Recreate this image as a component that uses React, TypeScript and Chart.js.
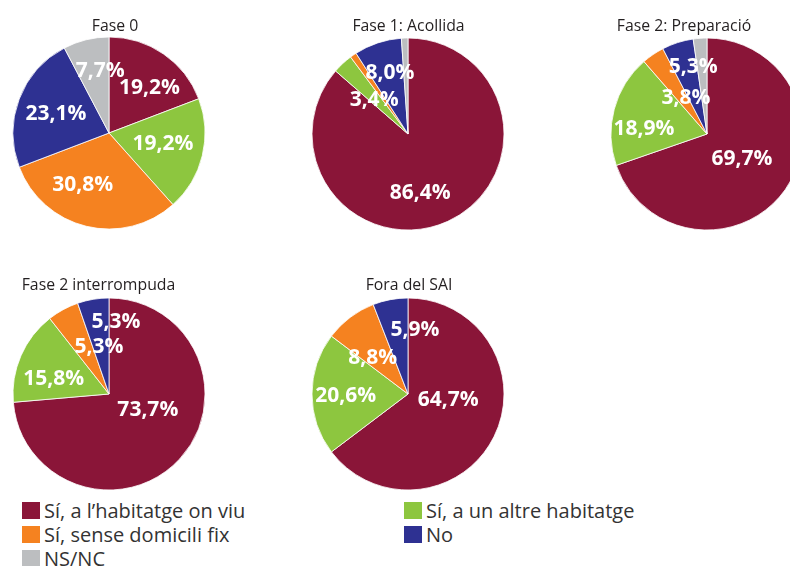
import React, { useEffect, useRef } from "react";
import { Chart, registerables } from "chart.js";

Chart.register(...registerables);

const categories = [
  "Sí, a l’habitatge on viu",
  "Sí, a un altre habitatge",
  "Sí, sense domicili fix",
  "No",
  "NS/NC",
];
const colors = ["#8A1538", "#8DC63F", "#F58220", "#2E3192", "#BCBEC0"];

const titles = ["Fase 0", "Fase 1: Acollida", "Fase 2: Preparació", "Fase 2 interrompuda", "Fora del SAI"];
const fase0 = [19.2, 19.2, 30.8, 23.1, 7.7];
const fase1 = [86.4, 3.4, 1.1, 8.0, 1.1];
const fase2prep = [69.7, 18.9, 3.8, 5.3, 2.3];
const fase2int = [73.7, 15.8, 5.3, 5.3, 0];
const fora = [64.7, 20.6, 8.8, 5.9, 0];

// label placement: [angle nudge in degrees from slice middle, radius fraction]
const place0 = [[6.5, 0.64], [-4, 0.57], [14, 0.59], [0, 0.59], [6, 0.67]];
const place1 = [[12.5, 0.61], [-1, 0.51], [0, 0.6], [2.4, 0.68], [0, 0.6]];
const place2 = [[-1.5, 0.44], [-9, 0.66], [5, 0.45], [6.5, 0.73], [0, 0.6]];
const place3 = [[-22.7, 0.43], [-7, 0.6], [17, 0.52], [15, 0.77], [0, 0.6]];
const place4 = [[-20.5, 0.42], [0, 0.65], [-6, 0.54], [16.6, 0.69], [0, 0.6]];

const FONT = "'Open Sans', 'Noto Sans', sans-serif";

const labelPlugin = {
  id: "sliceLabels",
  afterDatasetsDraw(chart: any, _args: any, opts: any) {
    const ctx = chart.ctx;
    const meta = chart.getDatasetMeta(0);
    const data = chart.data.datasets[0].data as number[];
    const place = opts.place as number[][];
    ctx.save();
    ctx.font = `bold 21px ${FONT}`;
    ctx.fillStyle = "#ffffff";
    ctx.textAlign = "center";
    ctx.textBaseline = "alphabetic";
    meta.data.forEach((arc: any, i: number) => {
      const v = data[i];
      if (v < 3) return;
      const p = arc.getProps(["x", "y", "startAngle", "endAngle", "outerRadius"], true);
      const a = (p.startAngle + p.endAngle) / 2 + (place[i][0] * Math.PI) / 180;
      const r = p.outerRadius * place[i][1];
      const x = p.x + Math.cos(a) * r;
      const y = p.y + Math.sin(a) * r;
      ctx.fillText(v.toFixed(1).replace(".", ",") + "%", x, y + 7.5);
    });
    ctx.restore();
  },
};

function Pie({ values, place, cx, cy }: { values: number[]; place: number[][]; cx: number; cy: number }) {
  const ref = useRef<HTMLCanvasElement | null>(null);
  useEffect(() => {
    if (!ref.current) return;
    const chart = new Chart(ref.current, {
      type: "pie",
      data: {
        labels: categories,
        datasets: [
          {
            data: values,
            backgroundColor: colors,
            borderColor: "#ffffff",
            borderWidth: 0.8,
          },
        ],
      },
      options: {
        animation: false,
        responsive: false,
        radius: 96,
        layout: { padding: 0 },
        plugins: {
          legend: { display: false },
          title: { display: false },
          tooltip: { enabled: false },
          sliceLabels: { place },
        } as any,
      },
      plugins: [labelPlugin],
    });
    return () => chart.destroy();
  }, []);
  return (
    <canvas
      ref={ref}
      width={200}
      height={200}
      style={{ position: "absolute", left: cx - 100, top: cy - 100, width: 200, height: 200 }}
    />
  );
}

function Title({ text, cx, baseline }: { text: string; cx: number; baseline: number }) {
  return (
    <div
      style={{
        position: "absolute",
        left: cx - 150,
        width: 300,
        top: baseline - 14,
        textAlign: "center",
        font: `15.8px ${FONT}`,
        lineHeight: "16px",
        color: "#231f20",
        whiteSpace: "nowrap",
      }}
    >
      {text}
    </div>
  );
}

function LegendItem({ i, left, top }: { i: number; left: number; top: number }) {
  return (
    <div
      style={{
        position: "absolute",
        left,
        top,
        height: 24,
        display: "flex",
        alignItems: "flex-start",
        font: `20px ${FONT}`,
        lineHeight: "24px",
        color: "#333333",
        whiteSpace: "nowrap",
      }}
    >
      <span style={{ display: "inline-block", width: 18, height: 17, marginTop: 3, background: colors[i], marginRight: 4 }} />
      <span>{categories[i]}</span>
    </div>
  );
}

export default function App() {
  return (
    <div
      style={{
        position: "absolute",
        left: 0,
        top: 0,
        width: 790,
        height: 566,
        overflow: "hidden",
        background: "#ffffff",
      }}
    >
      <Pie values={fase0} place={place0} cx={109} cy={133} />
      <Pie values={fase1} place={place1} cx={408} cy={134} />
      <Pie values={fase2prep} place={place2} cx={707} cy={134} />
      <Pie values={fase2int} place={place3} cx={109} cy={394} />
      <Pie values={fora} place={place4} cx={408} cy={394} />
      <Title text={titles[0]} cx={115} baseline={31} />
      <Title text={titles[1]} cx={408.5} baseline={31} />
      <Title text={titles[2]} cx={684} baseline={31} />
      <Title text={titles[3]} cx={98.5} baseline={290} />
      <Title text={titles[4]} cx={409} baseline={290} />
      <LegendItem i={0} left={22} top={499} />
      <LegendItem i={1} left={404} top={499} />
      <LegendItem i={2} left={22} top={523} />
      <LegendItem i={3} left={404} top={523} />
      <LegendItem i={4} left={22} top={547} />
    </div>
  );
}
